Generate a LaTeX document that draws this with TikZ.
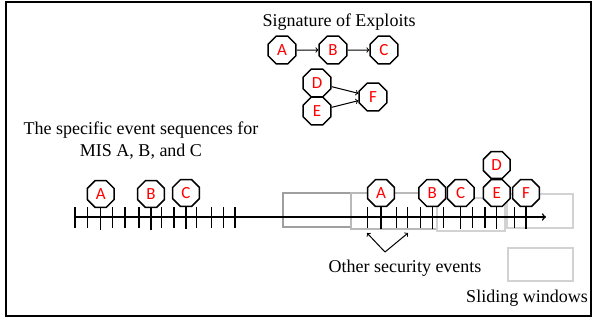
\documentclass[tikz,border=0pt]{standalone}
\usepackage{fontspec}
\setmainfont{Liberation Serif}
\newfontfamily\lblfont{Carlito}
\usetikzlibrary{shapes.geometric}

\tikzset{
  mis/.style={regular polygon, regular polygon sides=8, draw, line width=1.5pt,
    fill=white, inner sep=0pt, minimum size=29pt, text=red,
    font=\lblfont\fontsize{17}{17}\selectfont},
  big/.style={minimum size=30pt},
  win/.style={line width=1.5pt},
  link/.style={->, line width=1pt},
  caption/.style={font=\fontsize{18}{21}\selectfont}
}

\begin{document}
\begin{tikzpicture}[x=1pt,y=-1pt]
  \useasboundingbox (0,0) rectangle (597,322);
  \draw [line width=2pt] (6,1.5) rectangle (591,316);

  % signature of exploits
  \node [caption] (sig) at (339,22) {Signature of Exploits};
  \node [mis, big] (sa) at (282,50) {A};
  \node [mis, big] (sb) at (333,50) {B};
  \node [mis, big] (sc) at (384,50) {C};
  \draw [link] (sa) -- (sb);
  \draw [link] (sb) -- (sc);
  \node [mis, big] (sd) at (317,83) {D};
  \node [mis, big] (se) at (317,111) {E};
  \node [mis, big] (sf) at (373,97) {F};
  \draw [link] (sd) -- (sf);
  \draw [link] (se) -- (sf);

  \node [caption, align=center, font=\fontsize{18}{22}\selectfont] (seq) at (141,141)
    {The specific event sequences for\\MIS A, B, and C};

  % sliding windows
  \draw [win, gray!75] (283,193) rectangle (351,227);
  \draw [win, gray!55] (351,193) rectangle (437,229);
  \draw [win, gray!35] (437,198) rectangle (505,231);
  \draw [win, gray!35] (507,194) rectangle (573,228);

  % time line
  \coordinate (tstart) at (75,217);
  \coordinate (tend) at (546,217);
  \draw [->, line width=1.6pt] (tstart) -- (tend);
  \foreach \x in {75,87.7,112.7,125,139,161.3,174,196.7,211.7,223.3,235,
                  367.3,396.7,407.7,420.7,443.3,472.7,485,514.3}
    \draw [line width=1.2pt] (\x,207) -- (\x,228);

  \node [mis] (la) at (100.7,194) {A};
  \node [mis] (lb) at (151,194) {B};
  \node [mis] (lc) at (186,193) {C};
  \node [mis] (ra) at (381,193) {A};
  \node [mis] (rb) at (432.3,193) {B};
  \node [mis] (rc) at (460.7,193) {C};
  \node [mis] (re) at (496.7,193) {E};
  \node [mis] (rd) at (496.7,165) {D};
  \node [mis] (rf) at (526,193) {F};
  \foreach \n in {la,lb,lc,ra,rb,rc,re,rf}
    \draw [line width=1.2pt] (\n.south) -- ++(0,22);

  % other events
  \coordinate (ose) at (385,252);
  \coordinate (t1) at (367,233);
  \coordinate (t2) at (408,233);
  \draw [link] (ose) -- (t1);
  \draw [link] (ose) -- (t2);
  \node [caption] (other) at (405,268) {Other security events};

  % legend
  \draw [win, gray!35] (508,248) rectangle (573,281);
  \node [caption] (slide) at (527,298) {Sliding windows};
\end{tikzpicture}
\end{document}
